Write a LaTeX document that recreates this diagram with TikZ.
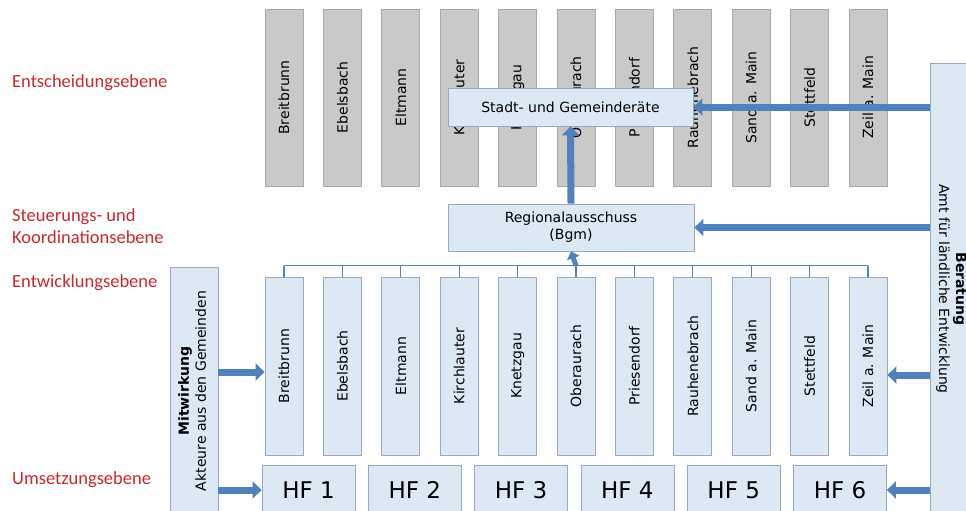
\documentclass[tikz,border=0pt]{standalone}
\usepackage{fontspec}
\setmainfont{DejaVu Sans}
\newfontfamily\lblfont{Carlito}
\usetikzlibrary{arrows.meta}

\definecolor{ortgrau}{RGB}{201,201,201}
\definecolor{ortrand}{RGB}{168,168,168}
\definecolor{hellblau}{RGB}{221,232,245}
\definecolor{blaurand}{RGB}{152,168,190}
\definecolor{pfeilblau}{RGB}{79,129,189}
\definecolor{ebenenrot}{RGB}{200,40,45}

\begin{document}
\begin{tikzpicture}[x=1pt, y=-1pt, line join=round,
  ortoben/.style={draw=ortrand, fill=ortgrau, line width=0.8pt, inner sep=0pt,
    minimum width=38pt, minimum height=177pt, font=\fontsize{14}{16}\selectfont},
  ortunten/.style={ortoben, draw=blaurand, fill=hellblau, minimum height=178pt},
  gremium/.style={draw=blaurand, fill=hellblau, line width=0.8pt, inner sep=0pt,
    align=center, font=\fontsize{14}{17}\selectfont},
  hfbox/.style={gremium, minimum width=93pt, minimum height=50pt,
    font=\fontsize{23}{26}\selectfont},
  ebene/.style={anchor=west, inner sep=0pt, align=left, text=ebenenrot,
    font=\lblfont\fontsize{18.5}{22}\selectfont},
  blockpfeil/.style={draw=pfeilblau, line width=7pt, -{Triangle[width=17pt,length=9pt]}},
  kamm/.style={draw=pfeilblau, line width=1.2pt}]

  %% ════ Ebenen (links, rot) ════
  \node[ebene] (ent) at (12,83)  {Entscheidungsebene};
  \node[ebene] (steu) at (12,226) {Steuerungs- und\\Koordinationsebene};
  \node[ebene] (entw) at (12,283) {Entwicklungsebene};
  \node[ebene] (ums) at (12,480) {Umsetzungsebene};

  %% ════ Gemeinden: oben grau, unten blau ════
  \foreach \ort [count=\i] in {Breitbrunn,Ebelsbach,Eltmann,Kirchlauter,Knetzgau,
      Oberaurach,Priesendorf,Rauhenebrach,Sand a. Main,Stettfeld,Zeil a. Main} {
    \node[ortoben]  (top\i) at ({284+58.4*(\i-1)},97.5) {\rotatebox{90}{\ort}};
    \node[ortunten] (dev\i) at ({284+58.4*(\i-1)},366)  {\rotatebox{90}{\ort}};
    \draw[kamm] (dev\i.north) -- ++(0,-11);
  }
  \draw[kamm] ([yshift=11pt]dev1.north) -- ([yshift=11pt]dev11.north);

  %% ════ Gremien ════
  \node[gremium, minimum width=245pt, minimum height=38pt] (stadt) at (570.5,107)
    {Stadt- und Gemeinderäte};
  \node[gremium, minimum width=246pt, minimum height=47pt] (reg) at (571,227.5)
    {Regionalausschuss\\(Bgm)};

  %% ════ Handlungsfelder ════
  \foreach \i in {1,...,6}
    \node[hfbox] (hf\i) at ({308.5+106.3*(\i-1)},490) {HF \i};

  %% ════ Seitenkästen ════
  \node[gremium, minimum width=48pt, minimum height=248pt] (mit) at (194,391)
    {\rotatebox{90}{\begin{tabular}{@{}c@{}}\textbf{Mitwirkung}\\Akteure aus den Gemeinden\end{tabular}}};
  \node[gremium, minimum width=42pt, minimum height=452pt] (ber) at (951,289)
    {\rotatebox{-90}{\begin{tabular}{@{}c@{}}\textbf{Beratung}\\Amt für ländliche Entwicklung\end{tabular}}};

  %% ════ Pfeile ════
  \draw[blockpfeil] (reg.north) -- (stadt.south);
  \draw[blockpfeil, line width=5pt, -{Triangle[width=13pt,length=7pt]}]
    ([yshift=11pt]dev6.north) -- (reg.south);
  \draw[blockpfeil] (ber.west |- stadt.east) -- (stadt.east);
  \draw[blockpfeil] (ber.west |- reg.east) -- (reg.east);
  \draw[blockpfeil] ([yshift=-9pt]ber.west |- dev11.east) -- ([yshift=-9pt]dev11.east);
  \draw[blockpfeil] (ber.west |- hf6.east) -- (hf6.east);
  \draw[blockpfeil] ([yshift=-6pt]mit.east |- dev1.west) -- ([yshift=-6pt]dev1.west);
  \draw[blockpfeil] (mit.east |- hf1.west) -- (hf1.west);

  \pgfresetboundingbox
  \path[use as bounding box] (0,0) rectangle (966,511);
\end{tikzpicture}
\end{document}
